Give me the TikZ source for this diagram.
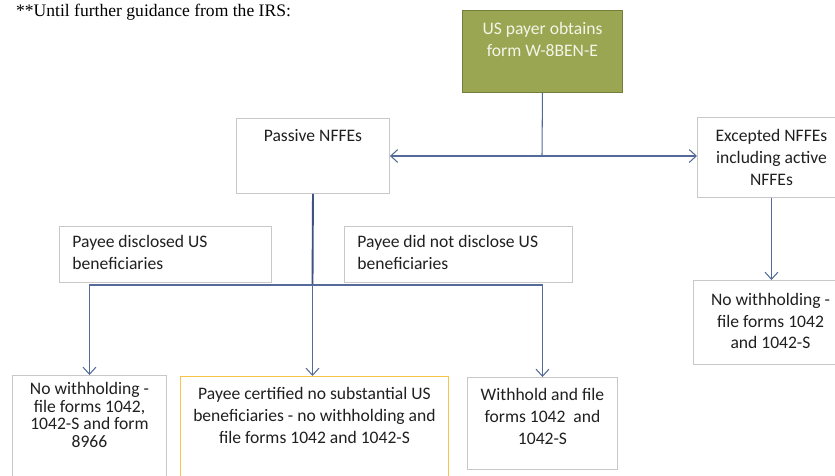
\documentclass[tikz,border=0pt]{standalone}
\usepackage{fontspec}
\setmainfont{Carlito}
\newfontfamily\irsfont{Liberation Serif}
\usetikzlibrary{arrows.meta}

\definecolor{greenfill}{RGB}{155,166,82}
\definecolor{greenedge}{RGB}{115,126,58}
\definecolor{greentext}{RGB}{244,244,232}
\definecolor{boxgray}{RGB}{200,200,200}
\definecolor{notegold}{RGB}{247,196,72}
\definecolor{linkblue}{RGB}{84,106,152}
\definecolor{trunkblue}{RGB}{62,82,132}
\definecolor{inkgray}{RGB}{32,32,32}

% box text: [alignment]{width}{height}{top pad}{lines}
\newcommand\boxtext[5][\centering]{\parbox[c][#3][t]{#2}{\lineskiplimit=-\maxdimen#1\vspace*{#4}\strut #5}}

\tikzset{
  box/.style={draw=boxgray, line width=0.8pt, fill=white, inner sep=0pt, anchor=north west,
    text=inkgray, font=\fontsize{15}{18.7}\selectfont},
  startbox/.style={box, draw=greenedge, fill=greenfill, text=greentext},
  goldbox/.style={box, draw=notegold},
  link/.style={draw=linkblue, line width=0.9pt},
  trunk/.style={draw=trunkblue, line width=1.6pt},
  arr/.style={link, -{Straight Barb[length=6pt,width=11pt]}}
}

\begin{document}
\begin{tikzpicture}[x=0.03cm, y=-0.03cm]
\useasboundingbox (0,0) rectangle (835,476);
\clip (0,0) rectangle (835,476);

\node[anchor=base west, font=\irsfont\fontsize{15}{18}\selectfont] (note) at (12,16.5) {**Until further guidance from the IRS:};

\node[startbox] (start) at (462,10) {\boxtext{4.8cm}{2.46cm}{7.3pt}{US payer obtains\\ form W-8BEN-E}};
\node[box] (passive) at (236,118) {\boxtext{4.59cm}{2.25cm}{6.5pt}{Passive NFFEs}};
\node[box] (excepted) at (697,117) {\boxtext{4.44cm}{2.4cm}{7.3pt}{Excepted NFFEs\\ including active\\ NFFEs}};
\node[box] (disclosed) at (59,226) {\boxtext[\raggedright\leftskip=0.39cm]{6.36cm}{1.68cm}{5pt}{Payee disclosed US\\ beneficiaries}};
\node[box] (undisclosed) at (344,226) {\boxtext[\raggedright\leftskip=0.39cm]{6.84cm}{1.68cm}{5pt}{Payee did not disclose US\\ beneficiaries}};
\node[box] (exempt) at (693,280) {\boxtext{4.62cm}{2.52cm}{8pt}{No withholding -\\ file forms 1042\\ and 1042-S}};
\node[box, font=\fontsize{15}{14.9}\selectfont] (nowh) at (12,375) {\boxtext{4.62cm}{3.3cm}{6pt}{No withholding -\\ file forms 1042,\\ 1042-S and form\\ 8966}};
\node[goldbox] (certified) at (180,376) {\boxtext{8.04cm}{3.3cm}{6.5pt}{Payee certified no substantial US\\ beneficiaries - no withholding and\\ file forms 1042 and 1042-S}};
\node[box] (withhold) at (467,377) {\boxtext{4.5cm}{2.76cm}{6.5pt}{Withhold and file\\ forms 1042\ \ and\\ 1042-S}};

\coordinate (split) at (542,156);
\coordinate (fork) at (312.5,285);
\draw[link] (start.south) -- (split);
\draw[arr] (split) -- (split -| passive.east);
\draw[arr] (split) -- (split -| excepted.west);
\draw[trunk] (passive.south) -- (fork);
\draw[arr] (fork) -| (nowh.north);
\draw[arr] (fork) -| (withhold.north);
\draw[arr] (fork) -- (fork |- certified.north);
\draw[arr] (excepted.south) -- (excepted.south |- exempt.north);
\end{tikzpicture}
\end{document}
